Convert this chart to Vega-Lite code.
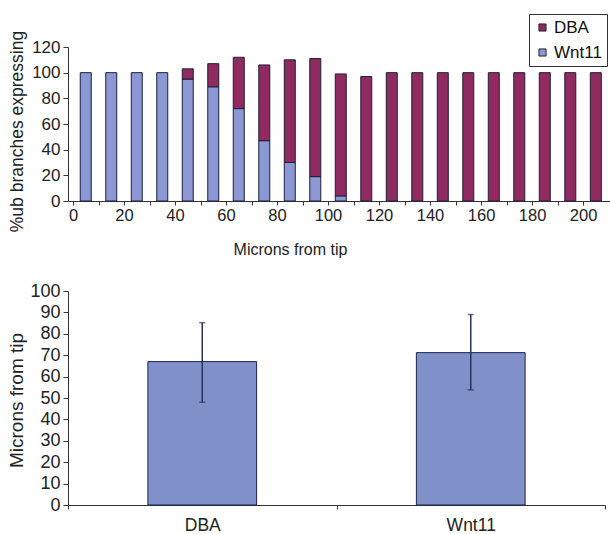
{
  "$schema": "https://vega.github.io/schema/vega-lite/v6.json",
  "autosize": {"type": "pad"},
  "padding": {"left": 7, "top": 13, "right": 0, "bottom": 0},
  "background": "white",
  "bounds": "flush",
  "align": {"row": "none", "column": "each"},
  "spacing": 90,
  "config": {
    "font": "Liberation Sans",
    "view": {"stroke": null},
    "axis": {
      "domainColor": "#333333",
      "tickColor": "#333333",
      "labelColor": "#222222",
      "titleColor": "#222222",
      "labelFont": "Liberation Sans",
      "titleFont": "Liberation Sans",
      "titleFontWeight": "normal",
      "grid": false,
      "labelFontSize": 17,
      "titleFontSize": 16,
      "labelOverlap": false
    }
  },
  "datasets": {
    "branches": [
      {"micron": 5, "marker": "Wnt11", "pct": 100},
      {"micron": 15, "marker": "Wnt11", "pct": 100},
      {"micron": 25, "marker": "Wnt11", "pct": 100},
      {"micron": 35, "marker": "Wnt11", "pct": 100},
      {"micron": 45, "marker": "Wnt11", "pct": 95},
      {"micron": 45, "marker": "DBA", "pct": 8},
      {"micron": 55, "marker": "Wnt11", "pct": 89},
      {"micron": 55, "marker": "DBA", "pct": 18},
      {"micron": 65, "marker": "Wnt11", "pct": 72},
      {"micron": 65, "marker": "DBA", "pct": 40},
      {"micron": 75, "marker": "Wnt11", "pct": 47},
      {"micron": 75, "marker": "DBA", "pct": 59},
      {"micron": 85, "marker": "Wnt11", "pct": 30},
      {"micron": 85, "marker": "DBA", "pct": 80},
      {"micron": 95, "marker": "Wnt11", "pct": 19},
      {"micron": 95, "marker": "DBA", "pct": 92},
      {"micron": 105, "marker": "Wnt11", "pct": 4},
      {"micron": 105, "marker": "DBA", "pct": 95},
      {"micron": 115, "marker": "DBA", "pct": 97},
      {"micron": 125, "marker": "DBA", "pct": 100},
      {"micron": 135, "marker": "DBA", "pct": 100},
      {"micron": 145, "marker": "DBA", "pct": 100},
      {"micron": 155, "marker": "DBA", "pct": 100},
      {"micron": 165, "marker": "DBA", "pct": 100},
      {"micron": 175, "marker": "DBA", "pct": 100},
      {"micron": 185, "marker": "DBA", "pct": 100},
      {"micron": 195, "marker": "DBA", "pct": 100},
      {"micron": 205, "marker": "DBA", "pct": 100}
    ],
    "summary": [
      {"marker": "DBA", "mean": 67, "lo": 48, "hi": 85.2},
      {"marker": "Wnt11", "mean": 71.2, "lo": 53.8, "hi": 89}
    ]
  },
  "vconcat": [
    {
      "width": 543,
      "height": 154,
      "data": {"name": "branches"},
      "mark": {"type": "bar", "width": 11, "stroke": "#1e1e3c", "strokeWidth": 1},
      "encoding": {
        "x": {
          "field": "micron",
          "type": "quantitative",
          "scale": {"domain": [0, 209], "nice": false, "zero": true},
          "axis": {
            "title": "Microns from tip",
            "values": [0, 10, 20, 30, 40, 50, 60, 70, 80, 90, 100, 110, 120, 130, 140, 150, 160, 170, 180, 190, 200],
            "labelExpr": "datum.value % 20 === 0 ? datum.label : ''",
            "labelFlush": false,
            "labelFontSize": 16.5,
            "tickSize": 4,
            "labelPadding": 2,
            "titlePadding": 18,
            "titleX": 222,
            "titleAlign": "center"
          }
        },
        "y": {
          "field": "pct",
          "type": "quantitative",
          "stack": "zero",
          "scale": {"domain": [0, 120], "nice": false},
          "axis": {
            "title": "%ub branches expressing",
            "values": [0, 20, 40, 60, 80, 100, 120],
            "tickSize": 5,
            "labelPadding": 3,
            "titleFontSize": 17.5,
            "titlePadding": 5,
            "titleY": 84,
            "titleAlign": "center"
          }
        },
        "color": {
          "field": "marker",
          "type": "nominal",
          "scale": {"domain": ["DBA", "Wnt11"], "range": ["#8F2B5E", "#8B98D4"]},
          "legend": {
            "orient": "none",
            "legendX": 461,
            "legendY": -33,
            "title": null,
            "symbolType": "square",
            "symbolSize": 50,
            "symbolStrokeColor": "#222222",
            "symbolStrokeWidth": 1,
            "labelFontSize": 17,
            "labelFont": "Liberation Sans",
            "labelColor": "#111111",
            "strokeColor": "#333333",
            "fillColor": "white",
            "padding": 5,
            "rowPadding": 7,
            "labelOffset": 3
          }
        },
        "order": {"field": "marker", "sort": "descending"}
      }
    },
    {
      "width": 537,
      "height": 214,
      "data": {"name": "summary"},
      "resolve": {"axis": {"y": "independent"}},
      "encoding": {
        "x": {
          "field": "marker",
          "type": "nominal",
          "scale": {"paddingInner": 0, "paddingOuter": 0},
          "axis": {
            "title": null,
            "labelAngle": 0,
            "labelFontSize": 17.5,
            "tickBand": "extent",
            "tickSize": 4,
            "labelPadding": 7
          }
        }
      },
      "layer": [
        {
          "mark": {"type": "bar", "width": {"band": 0.405}, "fill": "#8090C8", "stroke": "#1c2350", "strokeWidth": 1},
          "encoding": {
            "y": {
              "field": "mean",
              "type": "quantitative",
              "scale": {"domain": [0, 100], "nice": false},
              "axis": {
                "title": "Microns from tip",
                "values": [0, 10, 20, 30, 40, 50, 60, 70, 80, 90, 100],
                "labelOverlap": false,
                "labelFontSize": 18,
                "tickSize": 5,
                "labelPadding": 3,
                "titleFontSize": 19,
                "titlePadding": 3,
                "titleY": 109,
                "titleAlign": "center"
              }
            }
          }
        },
        {
          "mark": {"type": "rule", "color": "#29325e", "strokeWidth": 1.5},
          "encoding": {
            "y": {"field": "lo", "type": "quantitative", "axis": null},
            "y2": {"field": "hi"}
          }
        },
        {
          "mark": {"type": "tick", "color": "#29325e", "thickness": 1.5, "size": 6},
          "encoding": {"y": {"field": "hi", "type": "quantitative", "axis": null}}
        },
        {
          "mark": {"type": "tick", "color": "#29325e", "thickness": 1.5, "size": 6},
          "encoding": {"y": {"field": "lo", "type": "quantitative", "axis": null}}
        }
      ]
    }
  ]
}
